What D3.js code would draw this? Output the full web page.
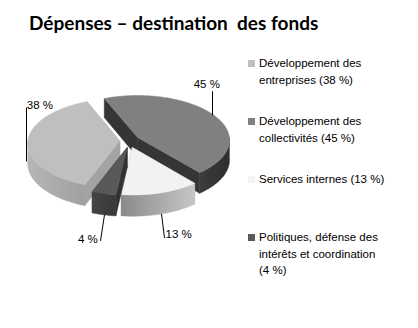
<!DOCTYPE html>
<html><head><meta charset="utf-8">
<script src="https://cdn.jsdelivr.net/npm/d3@7"></script>
<style>body{margin:0;background:#fff}svg{display:block}</style>
</head><body>
<script>
// ---- data ----
const title = "Dépenses – destination  des fonds";
const categories = [
  "Développement des entreprises",
  "Développement des collectivités",
  "Services internes",
  "Politiques, défense des intérêts et coordination"
];
const values = [38, 45, 13, 4];
const colors = ["#bfbfbf", "#808080", "#f2f2f2", "#595959"];

// ---- styles / layout ----
const W = 418, H = 328;
const wallShades = [["#b6b6b6", "#a0a0a0"], ["#3c3c3c", "#2e2e2e"], ["#8a8a8a", "#c6c6c6"], ["#444444", "#383838"]];
const cutShades = ["#a3a3a3", "#353535", "#a8a8a8", "#333333"];
const lineStartDx = [-2, -2, 0, 0];
const labelOffsets = [[-2, -54], [-2, -24], [3, 24], [-4, 26]];
const labelAnchor = ["start", "end", "start", "end"];
const labelTextDx = [1, 8, 2, -2];
const labelTextDy = [1, -3, 0, 2];
const cx = 129.5, cy = 141, RX = 92, RY = 44.5, K = 0.05, DEPTH = 20, EXPL_U = 0.105, EXPL_V = 0.15;
const startDeg = 201;

const svg = d3.select("body").append("svg").attr("width", W).attr("height", H)
  .style("font-family", "'Liberation Sans', Arial, sans-serif");
const defs = svg.append("defs");

svg.append("text").attr("x", 29).attr("y", 30)
  .style("font-family", "Lato, 'Open Sans', sans-serif")
  .style("font-weight", "700").style("font-size", "19px").style("white-space", "pre")
  .attr("fill", "#000").text(title);

const a0 = startDeg * Math.PI / 180;
const pie = d3.pie().sort(null).value(d => d).startAngle(a0).endAngle(a0 + 2 * Math.PI);
const arcs = pie(values);

function proj(u, v, z) {
  const p = 1 + K * v;
  return [cx + RX * u / p, cy - RY * v / p + DEPTH * z / p];
}
function offs(d) {
  const m = (d.startAngle + d.endAngle) / 2;
  return [EXPL_U * Math.sin(m), EXPL_V * Math.cos(m)];
}
function rimPt(d, a, z) {
  const [ou, ov] = offs(d);
  return proj(ou + Math.sin(a), ov + Math.cos(a), z);
}
function apex(d, z) {
  const [ou, ov] = offs(d);
  return proj(ou, ov, z);
}
function samples(s, e) {
  const n = Math.max(2, Math.ceil((e - s) / (Math.PI / 180)));
  return d3.range(n + 1).map(i => s + (e - s) * i / n);
}
const line = d3.line();

const order = arcs.map((d, i) => i)
  .sort((i, j) => {
    const mi = (arcs[i].startAngle + arcs[i].endAngle) / 2;
    const mj = (arcs[j].startAngle + arcs[j].endAngle) / 2;
    return Math.cos(mj) - Math.cos(mi);
  });

const g = svg.append("g");
order.forEach(i => {
  const d = arcs[i];
  const sg = g.append("g");
  // radial cut faces
  [d.startAngle, d.endAngle].forEach(a => {
    const pts = [apex(d, 0), rimPt(d, a, 0), rimPt(d, a, 1), apex(d, 1)];
    sg.append("path").attr("d", line(pts) + "Z").attr("fill", cutShades[i]).attr("stroke", cutShades[i]).attr("stroke-width", 0.5);
  });
  // outer wall: front-facing portions
  for (let k = 0; k < 3; k++) {
    const fs = Math.PI / 2 + 2 * Math.PI * k, fe = 3 * Math.PI / 2 + 2 * Math.PI * k;
    const s = Math.max(fs, d.startAngle), e = Math.min(fe, d.endAngle);
    if (e <= s) continue;
    const as = samples(s, e);
    const top = as.map(a => rimPt(d, a, 0));
    const bot = as.slice().reverse().map(a => rimPt(d, a, 1));
    const xs = top.map(p => p[0]);
    const gid = "w" + i + "_" + k;
    const lg = defs.append("linearGradient").attr("id", gid).attr("gradientUnits", "userSpaceOnUse")
      .attr("x1", d3.min(xs)).attr("x2", d3.max(xs)).attr("y1", 0).attr("y2", 0);
    lg.append("stop").attr("offset", 0).attr("stop-color", wallShades[i][0]);
    lg.append("stop").attr("offset", 1).attr("stop-color", wallShades[i][1]);
    sg.append("path").attr("d", line(top.concat(bot)) + "Z").attr("fill", `url(#${gid})`)
      .attr("stroke", `url(#${gid})`).attr("stroke-width", 0.5);
  }
  // top face
  const tp = [apex(d, 0)].concat(samples(d.startAngle, d.endAngle).map(a => rimPt(d, a, 0)));
  sg.append("path").attr("d", line(tp) + "Z").attr("fill", colors[i]).attr("stroke", colors[i]).attr("stroke-width", 0.5);
});

// data labels with leader lines
arcs.forEach((d, i) => {
  const m = (d.startAngle + d.endAngle) / 2;
  const z = Math.cos(m) < 0 ? 1 : 0;
  const r = rimPt(d, m, z);
  const p = [r[0] + lineStartDx[i], r[1]];
  const q = [r[0] + labelOffsets[i][0], r[1] + labelOffsets[i][1]];
  svg.append("line").attr("x1", Math.round(p[0]) + 0.5).attr("y1", p[1])
    .attr("x2", Math.round(q[0]) + 0.5).attr("y2", q[1]).attr("stroke", "#000").attr("stroke-width", 1);
  svg.append("text").attr("x", q[0] + labelTextDx[i]).attr("y", q[1] + labelTextDy[i])
    .attr("text-anchor", labelAnchor[i]).style("font-size", "11.5px").attr("fill", "#000")
    .text(values[i] + "\u00a0%");
});

// legend
const leg = svg.append("g");
const legX = 248, legY0 = 67, legStep = 58, lineH = 16.5, maxW = 142;
categories.forEach((c, i) => {
  const y = legY0 + i * legStep;
  leg.append("rect").attr("x", legX).attr("y", y - 7).attr("width", 7).attr("height", 7).attr("fill", colors[i]);
  const t = leg.append("text").attr("x", legX + 11).attr("y", y).style("font-size", "11.5px").attr("fill", "#000");
  const words = (c + " (" + values[i] + "\u00a0%)").split(" ");
  let lineWords = [], ln = 0;
  let ts = t.append("tspan").attr("x", legX + 11).attr("y", y);
  words.forEach(w => {
    lineWords.push(w);
    ts.text(lineWords.join(" "));
    if (ts.node().getComputedTextLength() > maxW && lineWords.length > 1) {
      lineWords.pop();
      ts.text(lineWords.join(" "));
      lineWords = [w];
      ln++;
      ts = t.append("tspan").attr("x", legX + 11).attr("y", y + ln * lineH).text(w);
    }
  });
});
</script>
</body></html>
